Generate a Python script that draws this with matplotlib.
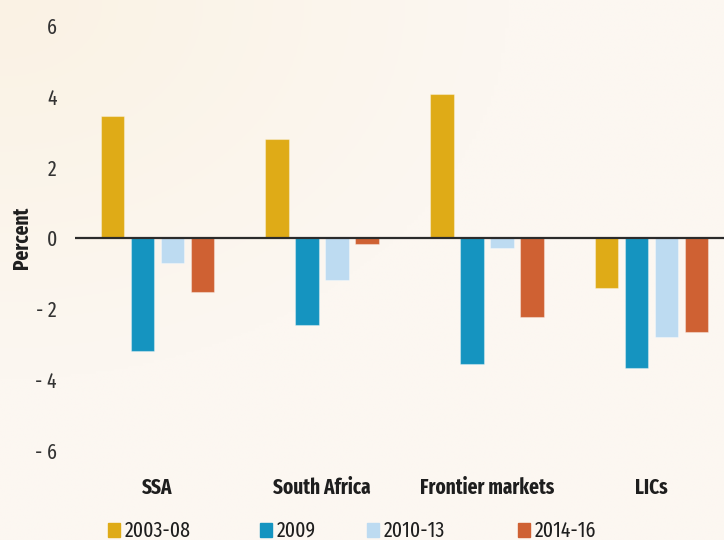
import numpy as np
import matplotlib.pyplot as plt
from matplotlib.patches import Rectangle

plt.rcParams['font.family'] = ['Fira Sans Extra Condensed', 'Roboto Condensed', 'DejaVu Sans']

groups = ['SSA', 'South Africa', 'Frontier markets', 'LICs']
periods = ['2003-08', '2009', '2010-13', '2014-16']
values = {
    '2003-08': [3.44, 2.80, 4.08, -1.40],
    '2009': [-3.18, -2.45, -3.55, -3.66],
    '2010-13': [-0.70, -1.18, -0.28, -2.79],
    '2014-16': [-1.52, -0.16, -2.22, -2.65],
}
colors = ['#dfab17', '#1594c0', '#bddbf1', '#cf6133']
yticks = [-6, -4, -2, 0, 2, 4, 6]

fig = plt.figure(figsize=(7.24, 5.4), dpi=100)

# warm background, slightly deeper towards the top-left corner
bg = fig.add_axes([0, 0, 1, 1], zorder=-10)
yy, xx = np.mgrid[0:1:200j, 0:1:200j]
d = np.clip(np.sqrt(xx ** 2 + yy ** 2) / 0.7, 0, 1)
top = np.array([250, 242, 228]) / 255
base = np.array([252, 247, 241]) / 255
img = top[None, None, :] * (1 - d[..., None]) + base[None, None, :] * d[..., None]
bg.imshow(img, aspect='auto', extent=[0, 1, 0, 1], origin='upper')
bg.axis('off')

ax = fig.add_axes([0.1036, 0.1267, 0.8964, 0.8455])
ax.patch.set_alpha(0)

x = np.arange(len(groups))
step = 0.182
width = 0.143
for i, (p, c) in enumerate(zip(periods, colors)):
    ax.bar(x + (i - 1.5) * step, values[p], width, color=c,
           edgecolor=(1, 1, 1, 0.35), linewidth=0.8, zorder=2)

ax.axhline(0, color='#2b2b2b', lw=1.6, zorder=3)
ax.set_xlim(-0.5, 3.44)
ax.set_ylim(-6.6, 6.3)
ax.set_yticks(yticks)
ax.set_yticklabels([f'- {abs(v)}' if v < 0 else str(v) for v in yticks],
                   fontsize=15.5, color='#333333')
ax.set_xticks(x)
ax.set_xticklabels(groups, fontsize=15, fontweight='bold', color='#1e1e1e')
ax.tick_params(length=0, axis='y', pad=13)
ax.tick_params(length=0, axis='x', pad=4)
for s in ax.spines.values():
    s.set_visible(False)
fig.text(22 / 724, 1 - 238 / 540, 'Percent', rotation=90, fontsize=15,
         fontweight='bold', color='#1e1e1e', ha='center', va='center')

# legend row along the bottom edge
leg_x = [108, 260, 367, 518]
for lx, p, c in zip(leg_x, periods, colors):
    fig.patches.append(Rectangle((lx / 724, 1 - 537 / 540), 12 / 724, 14 / 540,
                                 transform=fig.transFigure, color=c))
    fig.text((lx + 17) / 724, 1 - 520 / 540, p, fontsize=15.5, color='#1e1e1e',
             va='top', ha='left')

fig.savefig('out.png', dpi=100)
